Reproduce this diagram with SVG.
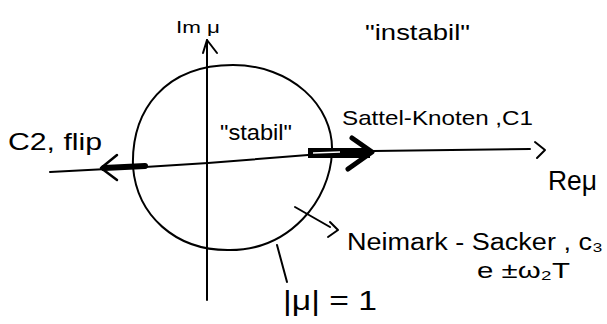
<svg xmlns="http://www.w3.org/2000/svg" width="607" height="324" viewBox="0 0 607 324">
<style>
.ln{fill:none;stroke:#000;stroke-width:2;stroke-linecap:round;stroke-linejoin:round}
.tx{font-family:"Liberation Sans","DejaVu Sans",sans-serif;fill:#000}
</style>
<rect width="607" height="324" fill="#fff"/>
<g id="circle">
<path class="ln" d="M233,65 C290,65 334,105 332,152 C330,200 290,250 230,250 C175,251 137,215 133,167 C131,110 165,65 233,65 Z"/>
</g>
<g id="axes">
<path class="ln" d="M207,300 L207,40"/>
<path class="ln" d="M203,53 L207,40 L217,53"/>
<path class="ln" d="M50,172 L145,167 L208,163 L308,155 L373,151 L530,149"/>
<path class="ln" d="M535,142 L545,150 L537,158"/>
</g>
<g id="connectors">
<path class="ln" style="stroke-width:6" d="M104,168 L145,166"/>
<path class="ln" style="stroke-width:2.5" d="M117,155 L101,168 L117,180"/>
<rect x="308" y="148" width="62" height="10" fill="#000"/>
<path d="M313,153 L340,152" stroke="#fff" stroke-width="1.5" fill="none"/>
<path class="ln" style="stroke-width:5" d="M352,138 L372,152 L348,169"/>
<path class="ln" d="M295,207 L330,227"/>
<path class="ln" d="M330,222 L338,230 L328,237"/>
<path class="ln" d="M277,245 L287,282"/>
</g>
<g id="labels">
<text class="tx" x="176" y="33" font-size="16" textLength="44" lengthAdjust="spacingAndGlyphs">Im μ</text>
<text class="tx" x="365" y="40" font-size="22" textLength="105" lengthAdjust="spacingAndGlyphs">"instabil"</text>
<text class="tx" x="220" y="140" font-size="22" textLength="72" lengthAdjust="spacingAndGlyphs">"stabil"</text>
<text class="tx" x="8" y="150" font-size="24" textLength="94" lengthAdjust="spacingAndGlyphs">C2, flip</text>
<text class="tx" x="342" y="125" font-size="21" textLength="191" lengthAdjust="spacingAndGlyphs">Sattel-Knoten ,C1</text>
<text class="tx" x="548" y="190" font-size="28" textLength="49" lengthAdjust="spacingAndGlyphs">Reμ</text>
<text class="tx" x="347" y="250" font-size="23" textLength="256" lengthAdjust="spacingAndGlyphs">Neimark - Sacker , c₃</text>
<text class="tx" x="477" y="278" font-size="22" textLength="93" lengthAdjust="spacingAndGlyphs">e ±ω₂T</text>
<text class="tx" x="283" y="310" font-size="28" textLength="94" lengthAdjust="spacingAndGlyphs">|μ| = 1</text>
</g>
</svg>
